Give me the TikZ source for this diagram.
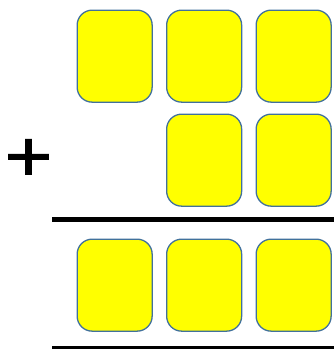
\documentclass[tikz,border=0pt]{standalone}
\usepackage{fontspec}
\setmainfont{Liberation Sans}
\newfontfamily\plusfont[FakeBold=1.2]{Liberation Sans}
\definecolor{boxedge}{HTML}{41719C}
\definecolor{boxfill}{HTML}{FFFF00}
\tikzset{
  tile/.style={draw=boxedge, fill=boxfill, line width=1.3pt, rounded corners=15pt,
    minimum width=75pt, minimum height=92pt, inner sep=0pt, anchor=north west},
  rule/.style={line width=#1, black},
}
\begin{document}
\begin{tikzpicture}[x=1pt,y=-1pt]
\useasboundingbox (0,0) rectangle (334,349);
% row 1
\node[tile] (a1) at (76.5,9.5) {};
\node[tile] (a2) at (166,9.5) {};
\node[tile] (a3) at (255.5,9.5) {};
% row 2
\node[tile] (b2) at (166,113.5) {};
\node[tile] (b3) at (255.5,113.5) {};
% row 3
\node[tile] (c1) at (76.5,238.5) {};
\node[tile] (c2) at (166,238.5) {};
\node[tile] (c3) at (255.5,238.5) {};
% plus sign
\node[inner sep=0pt, font=\fontsize{82}{82}\plusfont, yscale=0.87] (plus) at (28.5,160) {+};
% rules
\coordinate (r1s) at (52,219.5);
\coordinate (r1e) at (334,219.5);
\draw[rule=5.5pt] (r1s) -- (r1e);
\coordinate (r2s) at (52,347.5);
\coordinate (r2e) at (334,347.5);
\draw[rule=2.5pt] (r2s) -- (r2e);
\end{tikzpicture}
\end{document}
